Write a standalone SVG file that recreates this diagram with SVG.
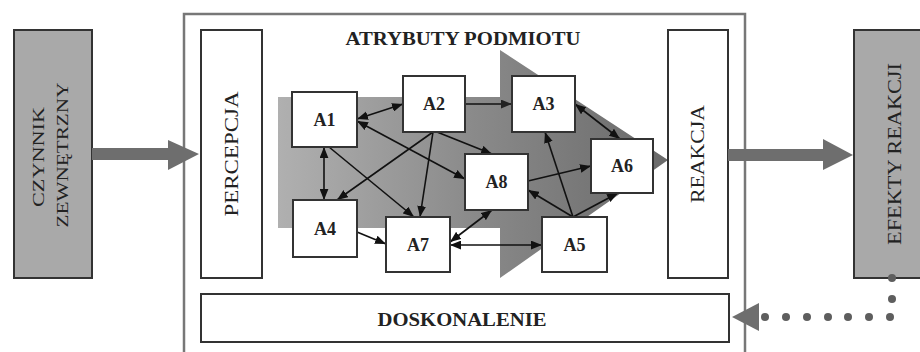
<svg xmlns="http://www.w3.org/2000/svg" width="920" height="352" viewBox="0 0 920 352">
<defs>
<linearGradient id="g" x1="278" y1="0" x2="668" y2="0" gradientUnits="userSpaceOnUse">
<stop offset="0" stop-color="#b0b0b0"/>
<stop offset="0.5" stop-color="#8a8a8a"/>
<stop offset="1" stop-color="#6a6a6a"/>
</linearGradient>
<marker id="ah" viewBox="0 0 10 8" refX="10" refY="4" markerWidth="11" markerHeight="9" markerUnits="userSpaceOnUse" orient="auto-start-reverse">
<path d="M0,0 L10,4 L0,8 Z" fill="#111"/>
</marker>
<marker id="ahd" viewBox="0 0 10 8" refX="10" refY="4" markerWidth="11" markerHeight="9" markerUnits="userSpaceOnUse" orient="auto">
<path d="M0,0 L10,4 L0,8 Z" fill="#222"/>
</marker>
</defs>
<style>
.box{fill:#fff;stroke:#333;stroke-width:2}
.gbox{fill:#a9a9a9;stroke:#333;stroke-width:2}
.lbl{font-family:"Liberation Serif","Times New Roman",serif;fill:#222}
.a{font-family:"Liberation Serif","Times New Roman",serif;font-weight:bold;font-size:18px;fill:#222;text-anchor:middle}
.c{stroke:#111;stroke-width:1.6;fill:none}
.big{fill:#6e6e6e}
.dot{fill:#5e5e5e}
</style>
<rect width="920" height="352" fill="#fff"/>

<g id="frame">
<rect x="184" y="14" width="561" height="350" fill="none" stroke="#777" stroke-width="2.5"/>
<text class="lbl" x="463" y="45" font-size="19" font-weight="bold" text-anchor="middle" textLength="235" lengthAdjust="spacingAndGlyphs">ATRYBUTY PODMIOTU</text>
</g>

<polygon id="flow" points="278,97 500,97 500,50 668,160 500,278 500,228 278,228" fill="url(#g)"/>

<g id="czynnik">
<rect class="gbox" x="14" y="30" width="78" height="248"/>
<text class="lbl" font-size="17" text-anchor="middle" transform="translate(38,157) rotate(-90)" y="6" textLength="100" lengthAdjust="spacingAndGlyphs">CZYNNIK</text>
<text class="lbl" font-size="17" text-anchor="middle" transform="translate(62,155) rotate(-90)" y="6" textLength="145" lengthAdjust="spacingAndGlyphs">ZEWNĘTRZNY</text>
</g>

<g id="percepcja">
<rect class="box" x="201" y="30" width="61" height="248"/>
<text class="lbl" font-size="18" text-anchor="middle" transform="translate(232,154) rotate(-90)" y="6" textLength="125" lengthAdjust="spacingAndGlyphs">PERCEPCJA</text>
</g>

<g id="reakcja">
<rect class="box" x="668" y="30" width="60" height="248"/>
<text class="lbl" font-size="18" text-anchor="middle" transform="translate(698,154) rotate(-90)" y="6" textLength="98" lengthAdjust="spacingAndGlyphs">REAKCJA</text>
</g>

<g id="efekty">
<rect class="gbox" x="854" y="30" width="80" height="248"/>
<text class="lbl" font-size="18" text-anchor="middle" transform="translate(895,154) rotate(-90)" y="6" textLength="182" lengthAdjust="spacingAndGlyphs">EFEKTY REAKCJI</text>
</g>

<g id="doskonalenie">
<rect class="box" x="201" y="294" width="528" height="48"/>
<text class="lbl" x="462" y="326" font-size="19" font-weight="bold" text-anchor="middle" textLength="169" lengthAdjust="spacingAndGlyphs">DOSKONALENIE</text>
</g>

<g id="connectors">
<polygon class="big" points="92,148 168,148 168,140 199,154 168,170 168,160 92,160"/>
<polygon class="big" points="728,149 823,149 823,139 853,155 823,170 823,161 728,161"/>
<g class="dot">
<circle cx="892" cy="278" r="4"/>
<circle cx="892" cy="299" r="4"/>
<circle cx="890" cy="317" r="4"/>
<circle cx="869" cy="317" r="4"/>
<circle cx="848" cy="317" r="4"/>
<circle cx="828" cy="317" r="4"/>
<circle cx="807" cy="317" r="4"/>
<circle cx="786" cy="317" r="4"/>
<circle cx="765" cy="317" r="4"/>
</g>
<polygon class="big" points="732,317 759,303 759,331"/>

<line class="c" x1="357" y1="119" x2="403" y2="104" marker-start="url(#ah)" marker-end="url(#ah)"/>
<line class="c" x1="357" y1="121" x2="465" y2="179" marker-start="url(#ah)" marker-end="url(#ah)"/>
<line class="c" x1="324" y1="147" x2="324" y2="200" marker-start="url(#ah)" marker-end="url(#ah)"/>
<line class="c" x1="329" y1="147" x2="414" y2="217" marker-end="url(#ah)"/>
<line class="c" x1="433" y1="132" x2="337" y2="200" marker-end="url(#ah)"/>
<line class="c" x1="433" y1="132" x2="420" y2="217" marker-end="url(#ah)"/>
<line class="c" x1="437" y1="132" x2="492" y2="154" marker-end="url(#ah)"/>
<line class="c" x1="465" y1="104" x2="512" y2="104" stroke-width="3" marker-end="url(#ahd)"/>
<line class="c" x1="575" y1="104" x2="620" y2="139" stroke-width="2.5" marker-start="url(#ah)" marker-end="url(#ah)"/>
<line class="c" x1="573" y1="217" x2="545" y2="132" marker-end="url(#ah)"/>
<line class="c" x1="573" y1="217" x2="528" y2="190" marker-end="url(#ah)"/>
<line class="c" x1="573" y1="217" x2="618" y2="193" marker-end="url(#ah)"/>
<line class="c" x1="528" y1="181" x2="591" y2="166" marker-end="url(#ah)"/>
<line class="c" x1="492" y1="210" x2="450" y2="242" marker-start="url(#ah)" marker-end="url(#ah)"/>
<line class="c" x1="450" y1="245" x2="542" y2="245" marker-start="url(#ah)" marker-end="url(#ah)"/>
<line class="c" x1="357" y1="232" x2="386" y2="244" marker-end="url(#ah)"/>
</g>

<g id="A1"><rect class="box" x="292" y="92" width="65" height="55"/><text class="a" x="324.5" y="126">A1</text></g>
<g id="A2"><rect class="box" x="403" y="76" width="62" height="56"/><text class="a" x="434" y="110">A2</text></g>
<g id="A3"><rect class="box" x="512" y="76" width="63" height="56"/><text class="a" x="543.5" y="110">A3</text></g>
<g id="A4"><rect class="box" x="293" y="200" width="64" height="57"/><text class="a" x="325" y="235">A4</text></g>
<g id="A5"><rect class="box" x="542" y="217" width="65" height="55"/><text class="a" x="574.5" y="251">A5</text></g>
<g id="A6"><rect class="box" x="591" y="139" width="62" height="54"/><text class="a" x="622" y="172">A6</text></g>
<g id="A7"><rect class="box" x="386" y="217" width="64" height="55"/><text class="a" x="418" y="251">A7</text></g>
<g id="A8"><rect class="box" x="465" y="154" width="63" height="56"/><text class="a" x="496.5" y="188">A8</text></g>
</svg>
